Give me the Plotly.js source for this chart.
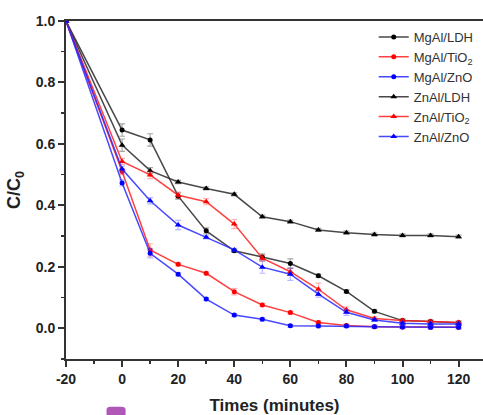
<!DOCTYPE html>
<html>
<head>
<meta charset="utf-8">
<script src="https://cdn.plot.ly/plotly-3.0.1.min.js"></script>
<style>html,body{margin:0;padding:0;overflow:hidden;background:#fff;}#chart{width:483px;height:415px;}</style>
</head>
<body>
<div id="chart"></div>
<script>
// ---- data ----
const times = [-20, 0, 10, 20, 30, 40, 50, 60, 70, 80, 90, 100, 110, 120];
const seriesNames = ['MgAl/LDH', 'MgAl/TiO<sub>2</sub>', 'MgAl/ZnO', 'ZnAl/LDH', 'ZnAl/TiO<sub>2</sub>', 'ZnAl/ZnO'];
const mgalLDH  = [1.0, 0.645, 0.613, 0.430, 0.317, 0.252, 0.232, 0.211, 0.171, 0.120, 0.055, 0.025, 0.022, 0.018];
const mgalTiO2 = [1.0, 0.510, 0.255, 0.208, 0.179, 0.119, 0.076, 0.051, 0.019, 0.009, 0.005, 0.004, 0.003, 0.003];
const mgalZnO  = [1.0, 0.473, 0.244, 0.176, 0.095, 0.043, 0.029, 0.008, 0.007, 0.007, 0.005, 0.004, 0.003, 0.003];
const znalLDH  = [1.0, 0.596, 0.513, 0.476, 0.455, 0.436, 0.363, 0.347, 0.320, 0.311, 0.305, 0.302, 0.302, 0.298];
const znalTiO2 = [1.0, 0.543, 0.499, 0.433, 0.412, 0.339, 0.228, 0.184, 0.127, 0.060, 0.032, 0.025, 0.022, 0.019];
const znalZnO  = [1.0, 0.518, 0.415, 0.336, 0.296, 0.255, 0.199, 0.176, 0.111, 0.052, 0.027, 0.016, 0.014, 0.014];
const errMgalLDH  = [0, 0.02, 0.02, 0.01, 0.01, 0.005, 0.01, 0.015, 0.005, 0.005, 0.005, 0.005, 0.005, 0.005];
const errMgalTiO2 = [0, 0.01, 0.02, 0.005, 0.005, 0.01, 0.005, 0.005, 0.005, 0.005, 0.005, 0.005, 0.005, 0.005];
const errMgalZnO  = [0, 0.01, 0.015, 0.005, 0.005, 0.005, 0.005, 0.005, 0.005, 0.005, 0.005, 0.005, 0.005, 0.005];
const errZnalLDH  = [0, 0.02, 0.01, 0.005, 0.005, 0.005, 0.005, 0.005, 0.005, 0.005, 0.005, 0.005, 0.005, 0.005];
const errZnalTiO2 = [0, 0.01, 0.012, 0.01, 0.01, 0.015, 0.01, 0.01, 0.02, 0.01, 0.005, 0.005, 0.005, 0.005];
const errZnalZnO  = [0, 0.01, 0.01, 0.015, 0.005, 0.005, 0.02, 0.02, 0.01, 0.01, 0.005, 0.005, 0.005, 0.005];
const xTickVals = [-20, 0, 20, 40, 60, 80, 100, 120];
const yTickVals = [0.0, 0.2, 0.4, 0.6, 0.8, 1.0];
const yTickText = ['0.0', '0.2', '0.4', '0.6', '0.8', '1.0'];

// ---- styles ----
const FONT = '"Liberation Sans", Arial, sans-serif';
function mk(name, y, err, color, lineColor, errColor, symbol, size) {
  return {
    x: times, y: y, name: name, type: 'scatter', mode: 'lines+markers',
    line: {color: lineColor, width: 1.5},
    marker: {color: color, symbol: symbol, size: size},
    error_y: {type: 'data', array: err, visible: true, color: errColor, thickness: 1.2, width: 3}
  };
}
const data = [
  mk(seriesNames[0], mgalLDH,  errMgalLDH,  '#000', 'rgba(40,40,40,0.85)', 'rgba(60,60,60,0.45)', 'circle', 5),
  mk(seriesNames[1], mgalTiO2, errMgalTiO2, '#ff0000', 'rgba(255,30,30,0.85)', 'rgba(255,60,60,0.4)', 'circle', 5),
  mk(seriesNames[2], mgalZnO,  errMgalZnO,  '#0000ff', 'rgba(40,40,255,0.85)', 'rgba(80,80,255,0.4)', 'circle', 5),
  mk(seriesNames[3], znalLDH,  errZnalLDH,  '#000', 'rgba(40,40,40,0.85)', 'rgba(60,60,60,0.45)', 'triangle-up', 6),
  mk(seriesNames[4], znalTiO2, errZnalTiO2, '#ff0000', 'rgba(255,30,30,0.85)', 'rgba(255,60,60,0.4)', 'triangle-up', 6),
  mk(seriesNames[5], znalZnO,  errZnalZnO,  '#0000ff', 'rgba(40,40,255,0.85)', 'rgba(80,80,255,0.4)', 'triangle-up', 6)
];

const layout = {
  width: 483, height: 415,
  margin: {l: 66, r: 0, t: 21, b: 56},
  paper_bgcolor: '#fff', plot_bgcolor: '#fff',
  font: {family: FONT, color: '#222'},
  showlegend: true,
  legend: {x: 0.738, y: 0.997, xanchor: 'left', yanchor: 'top', bgcolor: 'rgba(0,0,0,0)',
           font: {family: FONT, size: 13, color: '#333'}, itemwidth: 30},
  xaxis: {
    range: [-20, 128.7], tickmode: 'array', tickvals: xTickVals, ticktext: xTickVals.map(String),
    ticks: 'outside', ticklen: 6, tickwidth: 2, tickcolor: '#333',
    minor: {dtick: 10, tick0: -20, ticks: 'outside', ticklen: 3, tickwidth: 1.5, tickcolor: '#333'},
    showgrid: false, zeroline: false, showline: true, linecolor: '#333', linewidth: 2, mirror: true,
    tickfont: {family: FONT, size: 14, color: '#222', weight: 'bold'},
    title: {text: '<b>Times (minutes)</b>', font: {family: FONT, size: 17, color: '#222'}, standoff: 14}
  },
  yaxis: {
    range: [-0.1, 1.0], tickmode: 'array', tickvals: yTickVals, ticktext: yTickText,
    ticks: 'outside', ticklen: 6, tickwidth: 2, tickcolor: '#333',
    minor: {dtick: 0.1, tick0: -0.1, ticks: 'outside', ticklen: 3, tickwidth: 1.5, tickcolor: '#333'},
    showgrid: false, zeroline: false, showline: true, linecolor: '#333', linewidth: 2, mirror: false,
    tickfont: {family: FONT, size: 14, color: '#222', weight: 'bold'},
    title: {text: '<b>C/C<sub>0</sub></b>', font: {family: FONT, size: 18, color: '#222'}, standoff: 10}
  },
  shapes: [{
    type: 'path', xref: 'paper', yref: 'paper',
    path: 'M 0.0972,-0.185 L 0.0972,-0.150 Q 0.0972,-0.141 0.107,-0.141 L 0.133,-0.141 Q 0.1429,-0.141 0.1429,-0.150 L 0.1429,-0.185 Z',
    fillcolor: '#b058b8', line: {width: 0}, layer: 'above'
  }]
};

Plotly.newPlot('chart', data, layout, {displayModeBar: false, staticPlot: true});
</script>
</body>
</html>
